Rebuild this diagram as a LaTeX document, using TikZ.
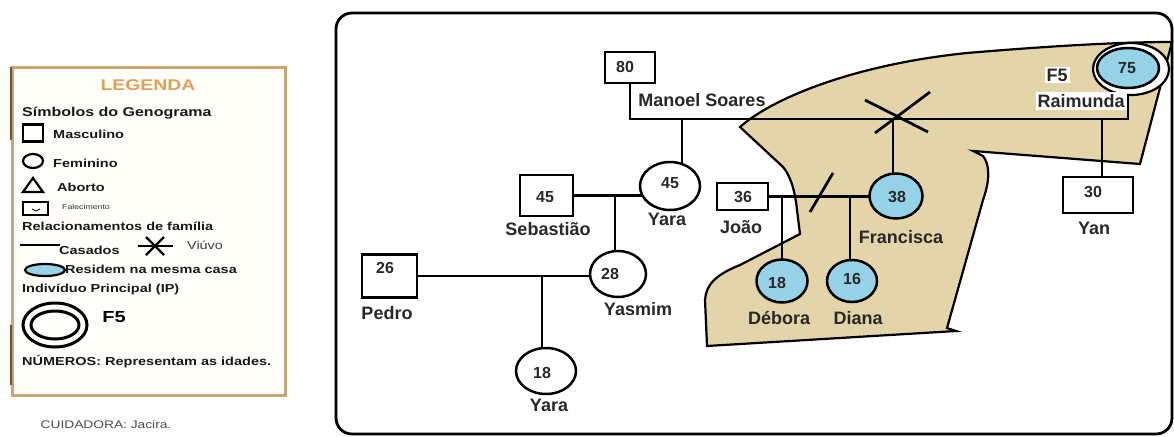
\documentclass[tikz,border=0pt]{standalone}
\usepackage{fontspec}
\setmainfont{Liberation Sans}
\newfontfamily\legfont[FakeStretch=1.25]{Liberation Sans}
\usetikzlibrary{shapes.geometric}
\pgfdeclarelayer{back}
\pgfdeclarelayer{lines}
\pgfsetlayers{back,lines,main}
\definecolor{tanfill}{RGB}{228,212,170}
\definecolor{resblue}{RGB}{150,210,232}
\definecolor{legborder}{RGB}{205,165,115}
\definecolor{legdark}{RGB}{110,80,50}
\definecolor{legtitle}{RGB}{225,160,90}
\definecolor{legfill}{RGB}{255,254,248}
\definecolor{txt}{RGB}{40,40,40}
\tikzset{
  male/.style={draw, line width=2.5, rectangle, fill=white, inner sep=0},
  fem/.style={draw, line width=2.5, ellipse, fill=white, inner sep=0},
  lbl/.style={font=\fontsize{18}{20}\selectfont\bfseries, text=txt, inner sep=1},
  num/.style={font=\fontsize{16}{18}\selectfont\bfseries, text=txt, inner sep=0},
  link/.style={line width=2.7, black},
  legtxt/.style={font=\legfont\fontsize{11.6}{13}\selectfont\bfseries, text=black!90, inner sep=0, anchor=west},
}
\begin{document}
\begin{tikzpicture}[x=1pt,y=-1pt]
\useasboundingbox (0,0) rectangle (1174,436);
\begin{pgfonlayer}{back}
\fill[white] (0,0) rectangle (1174,436);
\end{pgfonlayer}

% ---------------- Legend ----------------
\draw[legborder, line width=3, fill=legfill] (12,67) rectangle (285,395);
\draw[legdark, line width=2.5] (11,67) -- (11,140);
\draw[legdark, line width=2.5] (11,325) -- (11,385);
\node[font=\legfont\fontsize{15.5}{17}\selectfont\bfseries, text=legtitle, inner sep=0] (lleg) at (148,85) {LEGENDA};
\node[legtxt, font=\legfont\fontsize{12.8}{15}\selectfont\bfseries] (lsimb) at (22,113) {Símbolos do Genograma};
\node[draw, line width=2.2, minimum width=20, minimum height=17, inner sep=0] (smasc) at (33,133) {};
\node[legtxt] (lmasc) at (53,134) {Masculino};
\node[draw, ellipse, line width=2.2, minimum width=20, minimum height=14, inner sep=0] (sfem) at (33,161) {};
\node[legtxt] (lfem) at (53,163) {Feminino};
\draw[line width=2.2] (23,192) -- (33,178) -- (43,192) -- cycle;
\node[legtxt] (labort) at (57,187) {Aborto};
\draw[line width=2.2] (23,202) rectangle (48,215);
\draw[line width=0.8] (32,209) -- (36,211) -- (40,209);
\node[font=\legfont\fontsize{7}{8}\selectfont, text=black!80, inner sep=0, anchor=west] (lfalec) at (62,207) {Falecimento};
\node[legtxt] (lrel) at (22,226) {Relacionamentos de família};
\draw[line width=2.8] (20,245) -- (60,245);
\node[legtxt] (lcas) at (59,250) {Casados};
\draw[line width=2.4] (138,246) -- (173,246);
\draw[line width=2.4] (146,237) -- (164,255);
\draw[line width=2.4] (164,237) -- (146,255);
\node[font=\legfont\fontsize{11.5}{13}\selectfont, text=black!75, inner sep=0, anchor=west] (lviuvo) at (187,245) {Viúvo};
\node[draw, ellipse, line width=2.2, fill=resblue, minimum width=40, minimum height=12, inner sep=0] (sres) at (45,270) {};
\node[legtxt] (lres) at (65,269) {Residem na mesma casa};
\node[legtxt] (lip) at (22,289) {Indivíduo Principal (IP)};
\draw[line width=3] (55,325) ellipse [x radius=32, y radius=22];
\draw[line width=3] (55,325) ellipse [x radius=24, y radius=14];
\node[font=\legfont\fontsize{16}{18}\selectfont\bfseries, inner sep=0] (lf5) at (114,317) {F5};
\node[legtxt] (lnum) at (22,362) {NÚMEROS: Representam as idades.};
\node[font=\legfont\fontsize{11}{13}\selectfont, text=black!70, inner sep=0] (lcuid) at (106,425) {CUIDADORA: Jacira.};

% ---------------- Frame ----------------
\draw[line width=2.8, rounded corners=16] (336,13) rectangle (1172,434);

% ---------------- Shaded household ----------------
\begin{pgfonlayer}{back}
\draw[line width=2.2, fill=tanfill]
  (740,127) .. controls (770,100) and (850,65) .. (967,53)
  .. controls (1050,46) and (1120,42) .. (1172,42)
  -- (1140,164) -- (973,151) -- (983,156)
  .. controls (990,165) and (990,180) .. (983,200)
  -- (947,328) -- (956,331) -- (707,346) -- (705,300)
  .. controls (706,285) and (715,275) .. (740,265)
  -- (800,234) -- (797,210)
  .. controls (795,190) and (790,175) .. (783,167) -- cycle;
\end{pgfonlayer}

% ---------------- Persons ----------------
\node[male, minimum width=50, minimum height=31] (manoel) at (630,67.5) {};
\node[male, minimum width=53, minimum height=41] (sebast) at (546.5,195.5) {};
\node[male, minimum width=51, minimum height=27] (joao) at (742.5,196.5) {};
\node[male, minimum width=55, minimum height=43] (pedro) at (389.5,276) {};
\node[male, minimum width=70, minimum height=36] (yan) at (1098,195) {};
\node[fem, minimum width=60, minimum height=48] (yara1) at (670,186) {};
\node[fem, minimum width=56, minimum height=46] (yasmim) at (618,274) {};
\node[fem, minimum width=60, minimum height=46] (yara2) at (546,371) {};
\node[fem, fill=resblue, minimum width=53, minimum height=45] (franc) at (896,196) {};
\node[fem, fill=resblue, minimum width=51, minimum height=43] (debora) at (782,281) {};
\node[fem, fill=resblue, minimum width=50, minimum height=42] (diana) at (852,281) {};
\node[ellipse, draw, line width=2.2, fill=white, minimum width=76, minimum height=52, inner sep=0] (raimo) at (1131,69) {};
\node[fem, fill=resblue, minimum width=62, minimum height=40] (raim) at (1128,68) {};

% ---------------- Connectors ----------------
\coordinate (mline) at (0,119);
\coordinate (cy1) at (682,119);
\coordinate (cy2) at (615,195.5);
\coordinate (cy3) at (542,276);
\coordinate (cd) at (782,196.5);
\coordinate (cdi) at (850,196.5);
\coordinate (xf) at (893,119);
\coordinate (cyan) at (1102,119);
\begin{pgfonlayer}{lines}
\draw[link] (manoel.center) |- (raim.center |- mline) -- (raim.center);
\draw[link] (cy1) -- (cy1 |- yara1.center);
\draw[link] (sebast.center) -- (sebast.center -| yara1.center);
\draw[link] (cy2) -- (cy2 |- yasmim.center);
\draw[link] (pedro.center) -- (pedro.center -| yasmim.center);
\draw[link] (cy3) -- (cy3 |- yara2.center);
\draw[link] (joao.center) -- (joao.center -| franc.center);
\draw[link] (cd) -- (cd |- debora.center);
\draw[link] (cdi) -- (cdi |- diana.center);
\draw[link] (xf) -- (xf |- franc.center);
\draw[link] (cyan) -- (cyan |- yan.center);
\draw[link] (810,212) -- (833,173);
\draw[link] (865,100) -- (928,132);
\draw[link] (930,92) -- (875,133);
\end{pgfonlayer}

% ---------------- Ages ----------------
\node[num] (n80) at (625,67) {80};
\node[num] (n45a) at (670,183) {45};
\node[num] (n45b) at (545,197) {45};
\node[num] (n36) at (743,197) {36};
\node[num] (n38) at (897,197) {38};
\node[num] (n26) at (385,268) {26};
\node[num] (n28) at (610,274) {28};
\node[num] (n18a) at (542,373) {18};
\node[num] (n18b) at (777,283) {18};
\node[num] (n16) at (852,279) {16};
\node[num] (n75) at (1127,68) {75};
\node[num] (n30) at (1093,192) {30};

% ---------------- Names ----------------
\node[lbl] (lmanoel) at (702,100) {Manoel Soares};
\node[lbl] (lyara1) at (667,219) {Yara};
\node[lbl] (lsebast) at (548,229) {Sebastião};
\node[lbl] (ljoao) at (741,227) {João};
\node[lbl] (lpedro) at (387,313) {Pedro};
\node[lbl] (lyasmim) at (638,309) {Yasmim};
\node[lbl] (lyara2) at (549,405) {Yara};
\node[lbl] (lfranc) at (901,237) {Francisca};
\node[lbl] (ldebora) at (779,318) {Débora};
\node[lbl] (ldiana) at (858,318) {Diana};
\node[lbl] (lyan) at (1094,228) {Yan};
\node[lbl, fill=white, inner sep=2] (lraim) at (1081,101) {Raimunda};
\node[lbl, fill=white, inner sep=2] (lf5m) at (1057,75) {F5};
\end{tikzpicture}
\end{document}
